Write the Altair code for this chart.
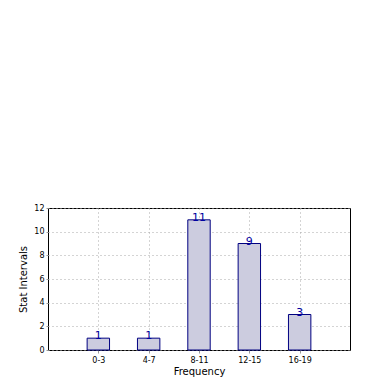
import altair as alt
import pandas as pd

categories = ["0-3", "4-7", "8-11", "12-15", "16-19"]
counts = [1, 1, 11, 9, 3]

df = pd.DataFrame({"idx": list(range(len(categories))), "cat": categories, "count": counts})

label_expr = "[" + ",".join("'" + c + "'" for c in categories) + "][datum.value]"

grid_kw = dict(grid=True, gridDash=[1, 3], gridColor="#a8a8a8", gridWidth=1)

x = alt.X(
    "idx:Q",
    scale=alt.Scale(domain=[-1, 5], nice=False, zero=False, padding=0),
    axis=alt.Axis(
        values=list(range(len(categories))),
        labelExpr=label_expr,
        title="Frequency",
        labelFontSize=8,
        titleFontSize=10,
        titleFontWeight="normal",
        labelPadding=3,
        titlePadding=2,
        tickSize=3,
        tickColor="#999999",
        labelOverlap=False,
        domain=False,
        **grid_kw,
    ),
)
y = alt.Y(
    "count:Q",
    scale=alt.Scale(domain=[0, 12], nice=False, padding=0),
    axis=alt.Axis(
        values=list(range(0, 13, 2)),
        title="Stat Intervals",
        labelFontSize=8,
        titleFontSize=10,
        titleFontWeight="normal",
        labelPadding=2,
        titlePadding=5,
        tickSize=2,
        tickColor="#999999",
        labelOverlap=False,
        domain=False,
        **grid_kw,
    ),
)

base = alt.Chart(df).encode(x=x, y=y)

bars = base.mark_bar(size=22.4, fill="#ccccdf", stroke="#000080", strokeWidth=1)

texts = base.mark_text(
    baseline="alphabetic", dy=1, fontSize=11, color="#0000a0", font="DejaVu Sans"
).encode(text="count:Q")

chart = (
    alt.layer(bars, texts)
    .properties(
        width=302,
        height=142,
        autosize="none",
        padding={"left": 40, "top": 200, "right": 32, "bottom": 32},
    )
    .configure_view(stroke="black", strokeWidth=1)
    .configure_axis(labelFont="DejaVu Sans", titleFont="DejaVu Sans", labelColor="black", titleColor="black")
)

chart.save("out.html", embed_options={"renderer": "svg", "actions": False})
